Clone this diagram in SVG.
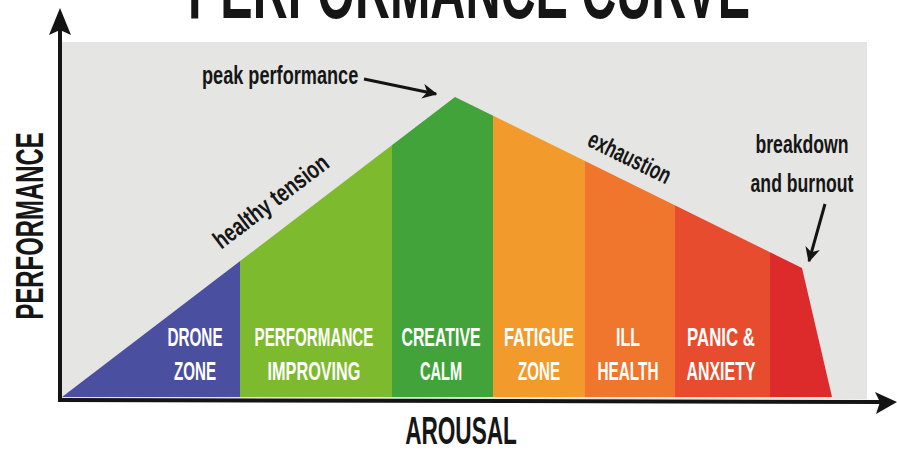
<svg xmlns="http://www.w3.org/2000/svg" width="897" height="452" viewBox="0 0 897 452">
  <style>
    .cond { font-family: "Liberation Sans", Arial, sans-serif; font-weight: bold; }
    .zone { fill: #ffffff; font-size: 26px; text-anchor: middle; }
    .note { fill: #161616; font-size: 25px; }
    .axis-label { fill: #161616; text-anchor: middle; }
    .axis { stroke: #141414; stroke-width: 4; fill: none; }
    .pointer { stroke: #141414; stroke-width: 3; fill: none; }
  </style>
  <defs>
    <clipPath id="curve-clip">
      <polygon points="62,397 455,97 802,268 832,397"/>
    </clipPath>
    <marker id="note-head" viewBox="0 0 10 10" refX="9" refY="5" markerWidth="5" markerHeight="5" orient="auto" markerUnits="strokeWidth">
      <path d="M0,0 L10,5 L0,10 L3,5 Z" fill="#141414"/>
    </marker>
  </defs>

  <rect width="897" height="452" fill="#ffffff"/>

  <!-- title, partly above the top edge -->
  <g transform="translate(469,18) scale(0.605,1)">
    <text class="cond" x="0" y="0" font-size="80" text-anchor="middle" textLength="929" lengthAdjust="spacingAndGlyphs" fill="#161616">PERFORMANCE CURVE</text>
  </g>

  <!-- chart panel -->
  <rect x="62" y="42" width="805" height="357" fill="#e5e5e3"/>

  <!-- coloured bands under the curve -->
  <g id="bands" clip-path="url(#curve-clip)">
    <rect id="band-drone" x="60" y="90" width="180" height="310" fill="#4b4f9f"/>
    <rect id="band-improving" x="240" y="90" width="152" height="310" fill="#7dba2e"/>
    <rect id="band-calm" x="392" y="90" width="101" height="310" fill="#41a33a"/>
    <rect id="band-fatigue" x="493" y="90" width="92" height="310" fill="#f29a2b"/>
    <rect id="band-ill" x="585" y="90" width="90" height="310" fill="#ef762c"/>
    <rect id="band-panic" x="675" y="90" width="95" height="310" fill="#e64c2d"/>
    <rect id="band-burnout" x="770" y="90" width="70" height="310" fill="#dc2b2a"/>
  </g>

  <!-- zone labels (condensed by a horizontal scale of 0.6) -->
  <g id="label-drone" class="cond zone" transform="translate(195,0) scale(0.6,1)">
    <text x="0" y="346" textLength="92" lengthAdjust="spacingAndGlyphs">DRONE</text>
    <text x="0" y="380" textLength="70" lengthAdjust="spacingAndGlyphs">ZONE</text>
  </g>
  <g id="label-improving" class="cond zone" transform="translate(314,0) scale(0.6,1)">
    <text x="0" y="346" textLength="198" lengthAdjust="spacingAndGlyphs">PERFORMANCE</text>
    <text x="0" y="380" textLength="155" lengthAdjust="spacingAndGlyphs">IMPROVING</text>
  </g>
  <g id="label-calm" class="cond zone" transform="translate(441,0) scale(0.6,1)">
    <text x="0" y="346" textLength="132" lengthAdjust="spacingAndGlyphs">CREATIVE</text>
    <text x="0" y="380" textLength="70" lengthAdjust="spacingAndGlyphs">CALM</text>
  </g>
  <g id="label-fatigue" class="cond zone" transform="translate(539,0) scale(0.6,1)">
    <text x="0" y="346" textLength="117" lengthAdjust="spacingAndGlyphs">FATIGUE</text>
    <text x="0" y="380" textLength="70" lengthAdjust="spacingAndGlyphs">ZONE</text>
  </g>
  <g id="label-ill" class="cond zone" transform="translate(628,0) scale(0.6,1)">
    <text x="0" y="346" textLength="40" lengthAdjust="spacingAndGlyphs">ILL</text>
    <text x="0" y="380" textLength="102" lengthAdjust="spacingAndGlyphs">HEALTH</text>
  </g>
  <g id="label-panic" class="cond zone" transform="translate(721,0) scale(0.6,1)">
    <text x="0" y="346" textLength="113" lengthAdjust="spacingAndGlyphs">PANIC &amp;</text>
    <text x="0" y="380" textLength="115" lengthAdjust="spacingAndGlyphs">ANXIETY</text>
  </g>

  <!-- notes along the curve -->
  <g id="note-peak" transform="translate(202,84) scale(0.72,1)">
    <text class="cond note" x="0" y="0" textLength="217" lengthAdjust="spacingAndGlyphs">peak performance</text>
  </g>
  <g id="note-tension" transform="translate(276,208) rotate(-37.3) scale(0.82,1)">
    <text class="cond note" x="0" y="0" font-size="23" text-anchor="middle" textLength="168" lengthAdjust="spacingAndGlyphs">healthy tension</text>
  </g>
  <g id="note-exhaustion" transform="translate(626,165) rotate(26.2) scale(0.735,1)">
    <text class="cond note" x="0" y="0" font-size="23" text-anchor="middle" textLength="121" lengthAdjust="spacingAndGlyphs">exhaustion</text>
  </g>
  <g id="note-burnout">
    <g transform="translate(802,153) scale(0.7,1)">
      <text class="cond note" x="0" y="0" text-anchor="middle" textLength="133" lengthAdjust="spacingAndGlyphs">breakdown</text>
    </g>
    <g transform="translate(802,192) scale(0.7,1)">
      <text class="cond note" x="0" y="0" text-anchor="middle" textLength="147" lengthAdjust="spacingAndGlyphs">and burnout</text>
    </g>
  </g>

  <!-- axes -->
  <g id="axes">
    <line class="axis" x1="60" y1="401" x2="60" y2="28"/>
    <path d="M60,8 L49,35 L60,30 L71,35 Z" fill="#141414"/>
    <line class="axis" x1="58" y1="400" x2="882" y2="402"/>
    <path d="M897,402 L875,392 L880,402 L876,414 Z" fill="#141414"/>
    <g transform="translate(43,226) rotate(-90) scale(0.63,1)">
      <text class="cond axis-label" x="0" y="0" font-size="38" textLength="297" lengthAdjust="spacingAndGlyphs">PERFORMANCE</text>
    </g>
    <g transform="translate(461,444) scale(0.57,1)">
      <text class="cond axis-label" x="0" y="0" font-size="38" textLength="196" lengthAdjust="spacingAndGlyphs">AROUSAL</text>
    </g>
  </g>

  <!-- pointers -->
  <g id="connectors">
    <line class="pointer" x1="364" y1="79" x2="436" y2="94" marker-end="url(#note-head)"/>
    <line class="pointer" x1="825" y1="204" x2="809" y2="261" marker-end="url(#note-head)"/>
  </g>
</svg>
